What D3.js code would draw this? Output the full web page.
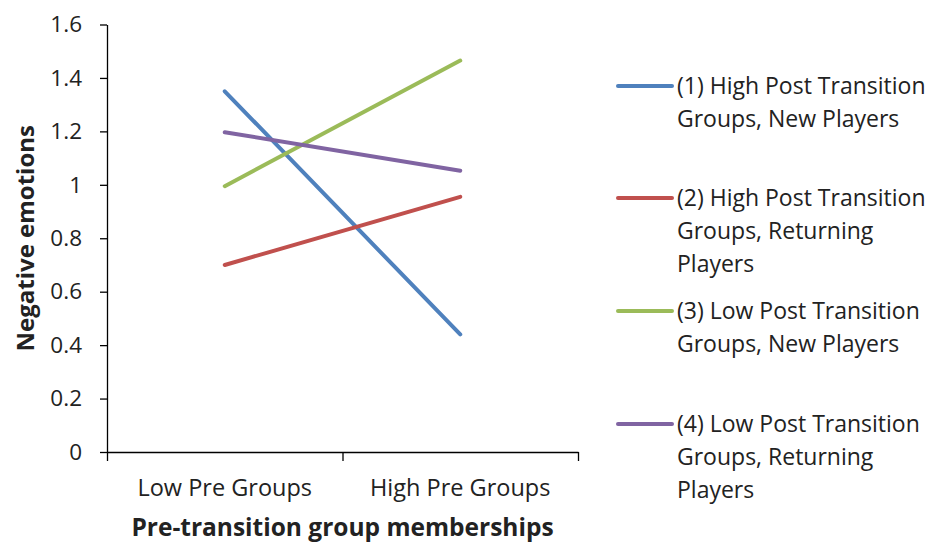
<!DOCTYPE html>
<html>
<head>
  <meta charset="utf-8">
  <title></title>
  <style>
    body { margin: 0; background: #fff; }
    text { font-family: "Open Sans", Lato, sans-serif; fill: #222; }
  </style>
  <script src="https://d3js.org/d3.v7.min.js"></script>
</head>
<body>
  <svg id="chart" width="933" height="542"></svg>
  <script>
    // data
    const categories = ["Low Pre Groups", "High Pre Groups"]
    const seriesNames = [
      ["(1) High Post Transition", "Groups, New Players"],
      ["(2) High Post Transition", "Groups, Returning", "Players"],
      ["(3) Low Post Transition", "Groups, New Players"],
      ["(4) Low Post Transition", "Groups, Returning", "Players"]
    ]
    const highNew = [1.35, 0.44]
    const highReturning = [0.70, 0.955]
    const lowNew = [0.995, 1.465]
    const lowReturning = [1.197, 1.053]
    const yTicks = [0, 0.2, 0.4, 0.6, 0.8, 1, 1.2, 1.4, 1.6]
    const colors = ["#4F81BD", "#C0504D", "#9BBB59", "#8064A2"]

    const series = [highNew, highReturning, lowNew, lowReturning]

    const svg = d3.select("#chart")
    const plotLeft = 107, plotRight = 578, plotTop = 24.5, plotBottom = 452

    const y = d3.scaleLinear().domain([0, 1.6]).range([plotBottom, plotTop])
    const xEdge = d3.scaleLinear().domain([0, categories.length]).range([plotLeft, plotRight])
    const x = d3.scaleBand().domain(categories).range([plotLeft, plotRight])

    // y axis
    const yAxis = svg.append("g")
      .attr("transform", `translate(${plotLeft},0)`)
      .call(d3.axisLeft(y).tickValues(yTicks).tickSize(7).tickSizeOuter(0)
        .tickFormat(d => String(+d.toFixed(1))))
    yAxis.select(".domain").attr("stroke", "#000").attr("stroke-width", 1.3)
    yAxis.selectAll(".tick line").attr("stroke", "#000").attr("stroke-width", 1.3)
    yAxis.selectAll(".tick text")
      .attr("x", -25)
      .style("font-size", "22.5px")
      .style("font-family", "'Open Sans', sans-serif")
      .attr("fill", "#222")

    // x axis
    const xAxis = svg.append("g")
      .attr("transform", `translate(0,${plotBottom})`)
      .call(d3.axisBottom(xEdge).tickValues([0, 1, 2]).tickSize(9).tickSizeOuter(0).tickFormat(""))
    xAxis.select(".domain").attr("stroke", "#000").attr("stroke-width", 1.3)
    xAxis.selectAll(".tick line").attr("stroke", "#000").attr("stroke-width", 1.3)

    svg.append("g").selectAll("text")
      .data(categories)
      .join("text")
      .attr("x", d => x(d) + x.bandwidth() / 2)
      .attr("y", 496)
      .attr("text-anchor", "middle")
      .style("font-size", "23.5px")
      .text(d => d)

    // axis titles
    svg.append("text")
      .attr("x", (plotLeft + plotRight) / 2)
      .attr("y", 536)
      .attr("text-anchor", "middle")
      .style("font-size", "24.5px")
      .style("font-weight", "bold")
      .attr("fill", "#000")
      .text("Pre-transition group memberships")

    svg.append("text")
      .attr("transform", `translate(34,${(plotTop + plotBottom) / 2}) rotate(-90)`)
      .attr("text-anchor", "middle")
      .style("font-size", "24px")
      .style("font-weight", "bold")
      .attr("fill", "#000")
      .text("Negative emotions")

    // lines
    const line = d3.line()
      .x((d, i) => x(categories[i]) + x.bandwidth() / 2)
      .y(d => y(d))

    svg.append("g").selectAll("path")
      .data(series)
      .join("path")
      .attr("d", d => line(d))
      .attr("fill", "none")
      .attr("stroke", (d, i) => colors[i])
      .attr("stroke-width", 4)
      .attr("stroke-linecap", "round")

    // legend
    const legendTop = [86, 198, 311, 424]
    const legend = svg.append("g").selectAll("g")
      .data(seriesNames)
      .join("g")
      .attr("transform", (d, i) => `translate(618,${legendTop[i]})`)

    legend.append("line")
      .attr("x1", 0).attr("x2", 54)
      .attr("stroke", (d, i) => colors[i])
      .attr("stroke-width", 4)
      .attr("stroke-linecap", "round")

    legend.append("text")
      .attr("x", 59)
      .attr("y", 8)
      .style("font-size", "23px")
      .selectAll("tspan")
      .data(d => d)
      .join("tspan")
      .attr("x", 59)
      .attr("dy", (d, i) => i === 0 ? 0 : 33)
      .text(d => d)
  </script>
</body>
</html>
